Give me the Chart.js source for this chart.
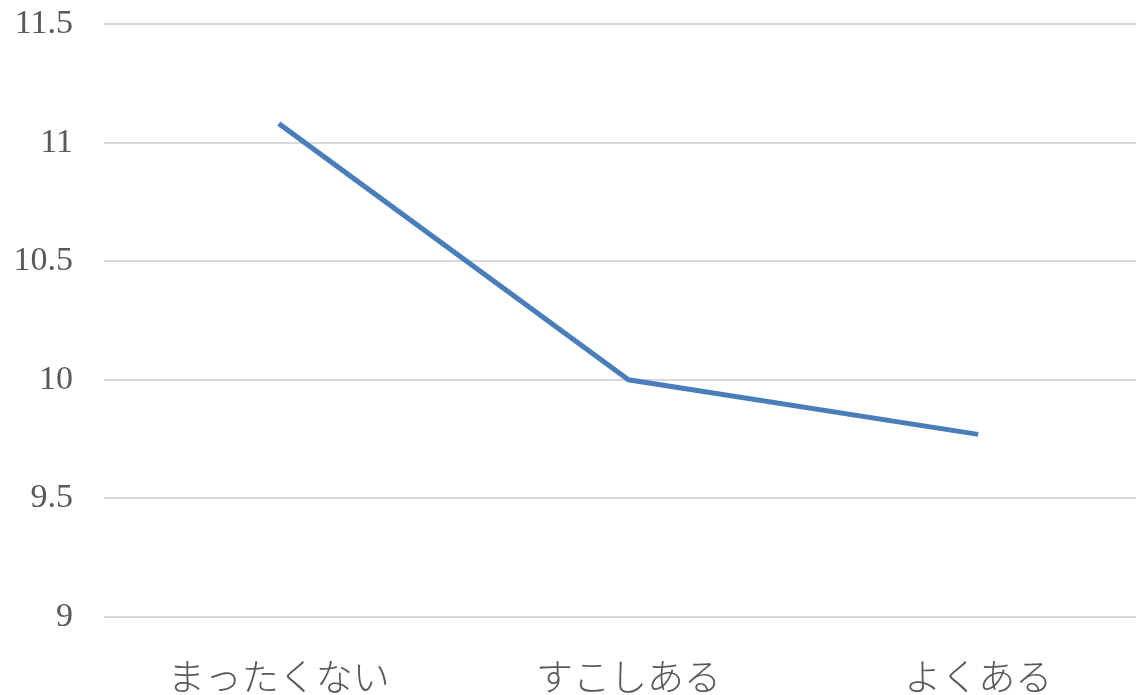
<!DOCTYPE html>
<html>
<head>
<meta charset="utf-8">
<script src="https://cdn.jsdelivr.net/npm/chart.js@4"></script>
<style>
  html, body { margin: 0; padding: 0; background: #fff; overflow: hidden; }
  #wrap { position: absolute; left: 0; top: 0; width: 1153px; height: 720px; }
</style>
</head>
<body>
<div id="wrap"><canvas id="lineChart"></canvas></div>
<script>
// datos del gráfico
const categorias = ['まったくない', 'すこしある', 'よくある'];
const valores = [11.08, 10.0, 9.77];
const ejeMin = 9;
const ejeMax = 11.5;
const paso = 0.5;

function createLineChart() {
    const ctx = document.getElementById('lineChart').getContext('2d');

    const chart = new Chart(ctx, {
        type: 'line',
        data: {
            labels: categorias,
            datasets: [{
                label: 'valor',
                data: valores,
                borderColor: '#4a7ebb',
                borderWidth: 5,
                pointRadius: 0,
                tension: 0,
                fill: false
            }]
        },
        options: {
            responsive: true,
            maintainAspectRatio: false,
            animation: false,
            layout: { padding: { top: 24, right: 0, left: 0, bottom: 0 } },
            plugins: {
                legend: { display: false },
                tooltip: { enabled: false }
            },
            scales: {
                x: {
                    offset: true,
                    grid: { display: false },
                    border: { display: false },
                    ticks: {
                        color: '#595959',
                        padding: 30,
                        maxRotation: 0,
                        font: { family: '"Noto Sans CJK JP"', size: 37, weight: 300 }
                    },
                    afterFit: (scale) => { scale.height = 103; scale.paddingLeft = 0; scale.paddingRight = 0; }
                },
                y: {
                    min: ejeMin,
                    max: ejeMax,
                    grid: { color: '#d9d9d9', lineWidth: 2, drawTicks: false },
                    border: { display: false },
                    ticks: {
                        stepSize: paso,
                        color: '#595959',
                        padding: 31,
                        font: { family: '"Liberation Serif", serif', size: 34 },
                        callback: (v) => String(v)
                    },
                    afterFit: (scale) => { scale.width = 104; scale.paddingTop = 0; scale.paddingBottom = 0; }
                }
            }
        }
    });
}

document.addEventListener('DOMContentLoaded', createLineChart);
</script>
</body>
</html>
